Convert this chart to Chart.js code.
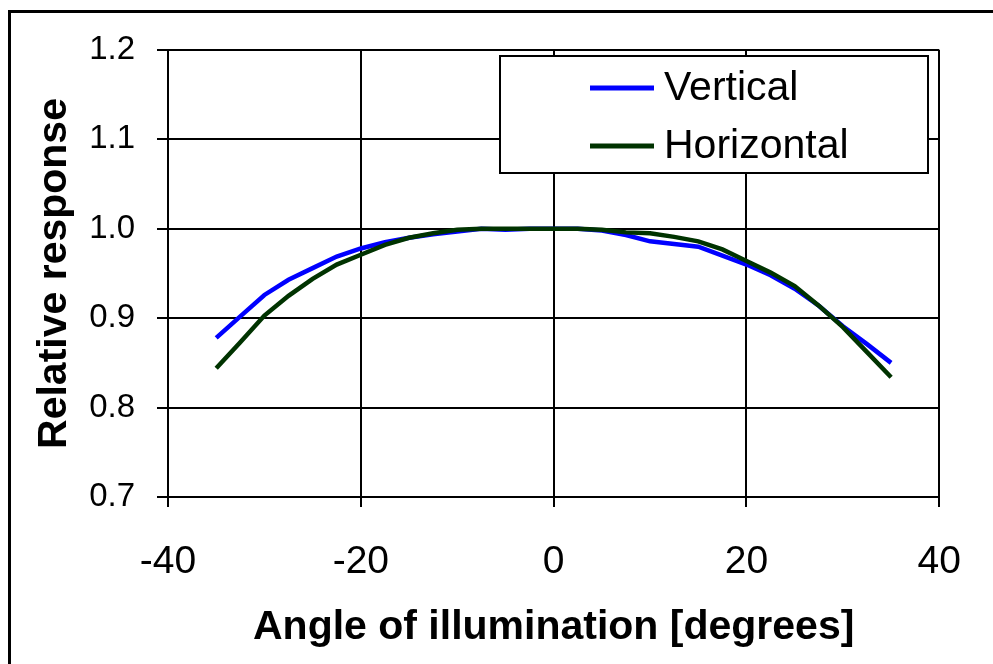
<!DOCTYPE html>
<html>
<head>
<meta charset="utf-8">
<script src="https://cdn.jsdelivr.net/npm/chart.js@4/dist/chart.umd.min.js"></script>
<style>
  html, body { margin: 0; padding: 0; background: #fff; }
  #wrap { position: relative; width: 993px; height: 664px; overflow: hidden; }
  #frame { position: absolute; left: 8px; top: 10px; width: 1000px; height: 700px;
           border-left: 3px solid #000; border-top: 3px solid #000; }
  #responseChart { position: absolute; left: 0; top: 0; }
</style>
</head>
<body>
<div id="wrap">
  <div id="frame"></div>
  <canvas id="responseChart" width="993" height="664"></canvas>
</div>
<script>
const responseCtx = document.getElementById("responseChart");

const angles = [-35, -32.5, -30, -27.5, -25, -22.5, -20, -17.5, -15, -12.5, -10, -7.5, -5, -2.5,
  0, 2.5, 5, 7.5, 10, 12.5, 15, 17.5, 20, 22.5, 25, 27.5, 30, 32.5, 35];

const verticalValues = [0.878, 0.902, 0.926, 0.943, 0.956, 0.969, 0.978, 0.985, 0.990, 0.994, 0.997, 1.0, 0.999, 1.0,
  1.0, 1.0, 0.998, 0.993, 0.986, 0.983, 0.980, 0.970, 0.960, 0.948, 0.933, 0.914, 0.891, 0.871, 0.850];

const horizontalValues = [0.844, 0.873, 0.903, 0.925, 0.944, 0.960, 0.971, 0.982, 0.990, 0.995, 0.999, 1.0, 1.0, 1.0,
  1.0, 1.0, 0.999, 0.996, 0.995, 0.991, 0.986, 0.977, 0.964, 0.951, 0.936, 0.914, 0.890, 0.862, 0.834];

const xTicks = [-40, -20, 0, 20, 40];
const yTicks = [0.7, 0.8, 0.9, 1.0, 1.1, 1.2];

const FONT = "'Liberation Sans', Arial, sans-serif";

const toPoints = (values) => angles.map((a, i) => ({ x: a, y: values[i] }));

// Legend box sits inside the plot, drawn by hand like the original Excel chart.
const boxLegend = {
  id: "boxLegend",
  afterDraw(chart) {
    const ctx = chart.ctx;
    ctx.save();
    ctx.fillStyle = "#fff";
    ctx.strokeStyle = "#000";
    ctx.lineWidth = 2;
    ctx.fillRect(500, 56, 428, 117);
    ctx.strokeRect(500, 56, 428, 117);
    const rows = [88, 146];
    chart.data.datasets.forEach((ds, i) => {
      ctx.strokeStyle = ds.borderColor;
      ctx.lineWidth = 5;
      ctx.beginPath();
      ctx.moveTo(590, rows[i]);
      ctx.lineTo(654, rows[i]);
      ctx.stroke();
      ctx.fillStyle = "#000";
      ctx.font = `41px ${FONT}`;
      ctx.textBaseline = "middle";
      ctx.fillText(ds.label, 664, rows[i] + 1);
    });
    ctx.restore();
  },
};

new Chart(responseCtx, {
  type: "line",
  data: {
    datasets: [
      {
        label: "Vertical",
        data: toPoints(verticalValues),
        borderColor: "#0000ff",
        borderWidth: 4.5,
        pointRadius: 0,
        tension: 0,
        order: 1,
      },
      {
        label: "Horizontal",
        data: toPoints(horizontalValues),
        borderColor: "#003300",
        borderWidth: 4.5,
        pointRadius: 0,
        tension: 0,
        order: 0,
      },
    ],
  },
  options: {
    responsive: false,
    animation: false,
    layout: { padding: { left: 0, top: 50, right: 50, bottom: 0 } },
    plugins: { legend: { display: false }, tooltip: { enabled: false } },
    scales: {
      x: {
        type: "linear",
        min: -40,
        max: 40,
        afterBuildTicks: (scale) => { scale.ticks = xTicks.map((v) => ({ value: v })); },
        afterFit: (scale) => { scale.height = 167; },
        ticks: { color: "#000", font: { family: FONT, size: 39 }, padding: 32 },
        grid: { color: "#000", lineWidth: 2, tickLength: 10 },
        border: { color: "#000", width: 2 },
        title: {
          display: true,
          text: "Angle of illumination [degrees]",
          color: "#000",
          font: { family: FONT, size: 41, weight: "bold" },
          padding: { top: 0, bottom: 12 },
        },
      },
      y: {
        min: 0.7,
        max: 1.2,
        afterBuildTicks: (scale) => { scale.ticks = yTicks.map((v) => ({ value: v })); },
        afterFit: (scale) => { scale.width = 168; },
        ticks: {
          color: "#000",
          font: { family: FONT, size: 33 },
          padding: 22,
          callback: (value) => value.toFixed(1),
        },
        grid: { color: "#000", lineWidth: 2, tickLength: 11 },
        border: { color: "#000", width: 2 },
        title: {
          display: true,
          text: "Relative response",
          color: "#000",
          font: { family: FONT, size: 41, weight: "bold" },
          padding: { top: 30, bottom: 0 },
        },
      },
    },
  },
  plugins: [boxLegend],
});
</script>
</body>
</html>
